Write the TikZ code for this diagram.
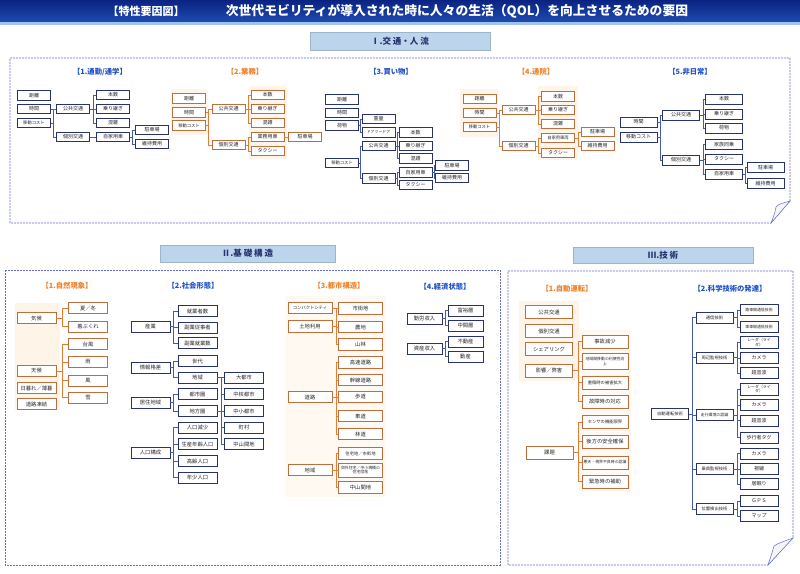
\documentclass[tikz,border=0pt]{standalone}
\usepackage{fontspec}
\newfontfamily\jp{Noto Sans CJK JP}
\usetikzlibrary{shadows}
\definecolor{navy}{RGB}{40,50,110}
\definecolor{obrd}{RGB}{190,110,60}
\definecolor{blin}{RGB}{70,90,170}
\definecolor{olin}{RGB}{225,125,55}
\definecolor{tblue}{RGB}{30,80,200}
\definecolor{torange}{RGB}{240,130,40}
\definecolor{frmc}{RGB}{100,110,200}
\definecolor{secfill}{RGB}{188,212,236}
\definecolor{barA}{RGB}{10,35,130}
\definecolor{barB}{RGB}{30,75,175}
\definecolor{stripe}{RGB}{160,195,235}
\newcommand\tre[4]{\coordinate (tmpb) at (#3,0);\foreach \kid in {#4}{\draw[#1] (#2.east) -| (tmpb |- \kid.west) -- (\kid.west);}}
\newcommand\tck[3]{\coordinate (tmpb) at (#3,0);\draw[#1] (#2.east) -- (tmpb |- #2.east);}
\tikzset{
 bx/.style={draw=navy, fill=white, line width=0.55pt, inner sep=0.3pt, align=center, text=black!85,
   font=\jp\fontsize{5}{5.6}\selectfont,
   drop shadow={shadow xshift=0.6pt, shadow yshift=-0.6pt, fill=black, opacity=0.25}},
 ox/.style={bx, draw=obrd},
 sm/.style={font=\jp\fontsize{4.3}{5}\selectfont},
 xs/.style={font=\jp\fontsize{3.9}{4.6}\selectfont},
 s1/.style={minimum width=33, minimum height=9.5},
 s1w/.style={minimum width=37, minimum height=10},
 s2/.style={minimum width=39, minimum height=11, font=\jp\fontsize{5.3}{6}\selectfont},
 s2w/.style={minimum width=44, minimum height=11.5, font=\jp\fontsize{5.3}{6}\selectfont},
 s3/.style={minimum width=47, minimum height=13, font=\jp\fontsize{5.3}{6}\selectfont},
 s3r/.style={minimum width=37, minimum height=11, font=\jp\fontsize{5}{5.6}\selectfont},
 bl/.style={draw=blin, line width=0.5pt},
 ol/.style={draw=olin, line width=0.5pt},
 tb/.style={font=\jp\bfseries\fontsize{7.3}{8}\selectfont, text=tblue},
 to/.style={font=\jp\bfseries\fontsize{7.3}{8}\selectfont, text=torange},
 sec/.style={fill=secfill, draw=secfill!85!black, line width=0.4pt, font=\jp\bfseries\fontsize{8.5}{10}\selectfont, text=navy},
 frm/.style={draw=frmc, dash pattern=on 2pt off 1pt, line width=0.6pt},
 curl/.style={draw=frmc, line width=0.5pt, fill=gray!8},
 osh/.style={fill=orange!9},
}
\begin{document}
\begin{tikzpicture}[x=1pt,y=-1pt]
\useasboundingbox (0,0) rectangle (800,573);
\fill[white] (0,0) rectangle (800,573);
% ---------- title bar
\shade[top color=barA, bottom color=barB] (0,0) rectangle (800,22);
\fill[stripe] (0,22) rectangle (800,25);
\node[font=\jp\bfseries\fontsize{11}{12}\selectfont, text=white] (tt1) at (146,11) {【特性要因図】};
\node[font=\jp\bfseries\fontsize{12.8}{13}\selectfont, text=white] (tt2) at (457,11) {次世代モビリティが導入された時に人々の生活（QOL）を向上させるための要因};
% ---------- section I
\node[sec, minimum width=180, minimum height=18] (sec1) at (400,41) {Ⅰ.交 通・人 流};
\draw[frm] (10,58) -- (790,58) -- (790,201) -- (771,223) -- (10,223) -- cycle;
\filldraw[curl] (790,201) .. controls (783,203) and (778,204) .. (776,207) .. controls (775,213) and (773,218) .. (771,223) -- cycle;
\fill[osh] (171,89) rectangle (208,135);
\fill[osh] (249,86) rectangle (287,159);
\fill[osh] (460,89) rectangle (498,137);
\fill[osh] (538,86) rectangle (578,160);
% titles
\node[tb] (h11) at (100,72) {【1.通勤/通学】};
\node[to] (h12) at (245,72) {【2.業務】};
\node[tb] (h13) at (391,72) {【3.買い物】};
\node[to] (h14) at (536,72) {【4.通院】};
\node[tb] (h15) at (690,72) {【5.非日常】};
% group 1
\node[bx,s1] (a1) at (34,95.5) {距離};
\node[bx,s1] (a2) at (34,109) {時間};
\node[bx,s1,sm] (a3) at (34,123) {移動コスト};
\node[bx,s1] (a4) at (73,109) {公共交通};
\node[bx,s1] (a5) at (73,137) {個別交通};
\node[bx,s1] (a6) at (113,95) {本数};
\node[bx,s1] (a7) at (113,109) {乗り継ぎ};
\node[bx,s1] (a8) at (113,123) {混雑};
\node[bx,s1] (a9) at (113,137) {自家用車};
\node[bx,s1] (a10) at (152,130) {駐車場};
\node[bx,s1] (a11) at (152,144) {維持費用};
\tre{bl}{a2}{53.5}{a4,a5}\tck{bl}{a3}{53.5}
\tre{bl}{a4}{93}{a6,a7,a8}
\draw[bl] (a5) -- (a9);
\tre{bl}{a9}{132.5}{a10,a11}
% group 2
\node[ox,s1] (b1) at (189,98.5) {距離};
\node[ox,s1] (b2) at (189,112.5) {時間};
\node[ox,s1,sm] (b3) at (189,125.5) {移動コスト};
\node[ox,s1] (b4) at (228.5,109) {公共交通};
\node[ox,s1] (b5) at (228.5,145) {個別交通};
\node[ox,s1] (b6) at (267.5,95) {本数};
\node[ox,s1] (b7) at (267.5,109) {乗り継ぎ};
\node[ox,s1] (b8) at (267.5,123) {混雑};
\node[ox,s1] (b9) at (267.5,137) {業務用車};
\node[ox,s1] (b10) at (267.5,151) {タクシー};
\node[ox,s1] (b11) at (305,137) {駐車場};
\tre{ol}{b2}{208.5}{b4,b5}\tck{ol}{b3}{208.5}
\tre{ol}{b4}{248}{b6,b7,b8}
\tre{ol}{b5}{248}{b9,b10}
\draw[ol] (b9) -- (b11);
% group 3
\node[bx,s1] (c1) at (342,99.5) {距離};
\node[bx,s1] (c2) at (342,113) {時間};
\node[bx,s1] (c3) at (342,125.5) {荷物};
\node[bx,s1,sm] (c4) at (342,163) {移動コスト};
\node[bx,s1] (c5) at (378.5,119) {重量};
\node[bx,s1,xs] (c6) at (378.5,132.5) {ドアツードア};
\node[bx,s1] (c7) at (378.5,146) {公共交通};
\node[bx,s1] (c8) at (378.5,178.5) {個別交通};
\node[bx,s1] (c9) at (415.5,132.5) {本数};
\node[bx,s1] (c10) at (415.5,146) {乗り継ぎ};
\node[bx,s1] (c11) at (415.5,158.5) {混雑};
\node[bx,s1] (c12) at (415.5,172.5) {自家用車};
\node[bx,s1] (c13) at (415.5,185) {タクシー};
\node[bx,s1] (c14) at (452,165.5) {駐車場};
\node[bx,s1] (c15) at (452,178) {維持費用};
\tre{bl}{c3}{360}{c5,c6}
\tre{bl}{c4}{360}{c7,c8}
\tre{bl}{c7}{397}{c9,c10,c11}
\tre{bl}{c8}{397}{c12,c13}
\tre{bl}{c12}{434}{c14,c15}
% group 4
\node[ox,s1] (d1) at (479.5,99) {距離};
\node[ox,s1] (d2) at (479.5,113) {時間};
\node[ox,s1,sm] (d3) at (479.5,127) {移動コスト};
\node[ox,s1] (d4) at (518.5,110) {公共交通};
\node[ox,s1] (d5) at (518.5,146) {個別交通};
\node[ox,s1] (d6) at (558,96.5) {本数};
\node[ox,s1] (d7) at (558,110) {乗り継ぎ};
\node[ox,s1] (d8) at (558,124) {混雑};
\node[ox,s1,sm] (d9) at (558,138) {自家用車両};
\node[ox,s1] (d10) at (558,153) {タクシー};
\node[ox,s1] (d11) at (597.5,132) {駐車場};
\node[ox,s1] (d12) at (597.5,146) {維持費用};
\tre{ol}{d2}{499}{d4,d5}\tck{ol}{d3}{499}
\tre{ol}{d4}{538}{d6,d7,d8}
\tre{ol}{d5}{538}{d9,d10}
\tre{ol}{d9}{578}{d11,d12}
% group 5
\node[bx,s1w] (e1) at (638.5,122) {時間};
\node[bx,s1w] (e2) at (638.5,137) {移動コスト};
\node[bx,s1w] (e3) at (681,115) {公共交通};
\node[bx,s1w] (e4) at (681,160) {個別交通};
\node[bx,s1w] (e5) at (724,99) {本数};
\node[bx,s1w] (e6) at (724,114) {乗り継ぎ};
\node[bx,s1w] (e7) at (724,128) {荷物};
\node[bx,s1w] (e8) at (724,144.5) {家族同乗};
\node[bx,s1w] (e9) at (724,159) {タクシー};
\node[bx,s1w] (e10) at (724,174) {自家用車};
\node[bx,s1w] (e11) at (765.5,167.5) {駐車場};
\node[bx,s1w] (e12) at (765.5,183.5) {維持費用};
\tre{bl}{e1}{660}{e3,e4}\tck{bl}{e2}{660}
\tre{bl}{e3}{703}{e5,e6,e7}
\tre{bl}{e4}{703}{e8,e9,e10}
\tre{bl}{e10}{745}{e11,e12}
% ---------- section II
\node[sec, minimum width=175, minimum height=17] (sec2) at (247.5,253.5) {Ⅱ.基 礎 構 造};
\draw[frm] (5,270) rectangle (500,565);
\fill[osh] (15,303) rectangle (60,410);
\fill[osh,fill=orange!5] (285,296) rectangle (386,497);
\node[to] (h21) at (67,286) {【1.自然現象】};
\node[tb] (h22) at (193,286) {【2.社会形態】};
\node[to] (h23) at (339,286) {【3.都市構造】};
\node[tb] (h24) at (445,287) {【4.経済状態】};
% group II-1
\node[ox,s2] (f1) at (36.5,318) {気候};
\node[ox,s2] (f2) at (88,308) {夏／冬};
\node[ox,s2] (f3) at (88,326.5) {着ぶくれ};
\node[ox,s2] (f4) at (88,344) {台風};
\node[ox,s2] (f5) at (88,362) {雨};
\node[ox,s2] (f6) at (88,380.5) {風};
\node[ox,s2] (f7) at (88,397.5) {雪};
\node[ox,s2] (f8) at (36.5,371) {天候};
\node[ox,s2] (f9) at (36.5,388) {日暮れ／薄暮};
\node[ox,s2] (f10) at (36.5,404) {道路凍結};
\tre{ol}{f1}{62}{f2,f3}
\tre{ol}{f8}{62}{f4,f5,f6,f7}
% group II-2
\node[bx,s2] (g1) at (150.5,326.5) {産業};
\node[bx,s2] (g2) at (197.5,311) {就業者数};
\node[bx,s2] (g3) at (197.5,327.5) {副業従事者};
\node[bx,s2] (g4) at (197.5,343) {副業就業数};
\node[bx,s2] (g5) at (150.5,367.5) {情報格差};
\node[bx,s2] (g6) at (197.5,361) {世代};
\node[bx,s2] (g7) at (197.5,377.5) {地域};
\node[bx,s2] (g8) at (150.5,402.5) {居住地域};
\node[bx,s2] (g9) at (197.5,394) {都市圏};
\node[bx,s2] (g10) at (197.5,411) {地方圏};
\node[bx,s2] (g11) at (150.5,452.5) {人口構成};
\node[bx,s2] (g12) at (197.5,427.5) {人口減少};
\node[bx,s2] (g13) at (197.5,444) {生産年齢人口};
\node[bx,s2] (g14) at (197.5,461) {高齢人口};
\node[bx,s2] (g15) at (197.5,477.5) {年少人口};
\node[bx,s2] (g16) at (244,377.5) {大都市};
\node[bx,s2] (g17) at (244,394) {中核都市};
\node[bx,s2] (g18) at (244,411) {中小都市};
\node[bx,s2] (g19) at (244,427.5) {町村};
\node[bx,s2] (g20) at (244,444) {中山間地};
\tre{bl}{g1}{173.5}{g2,g3,g4}
\tre{bl}{g5}{173.5}{g6,g7}
\tre{bl}{g8}{173.5}{g9,g10}
\tre{bl}{g11}{173.5}{g12,g13,g14,g15}
\tre{bl}{g7}{221}{g16,g17,g18,g19,g20}
\tck{bl}{g10}{221}
% group II-3
\node[ox,s2w,sm] (h1) at (310,308) {コンパクトシティ};
\node[ox,s2w] (h2) at (310,326.5) {土地利用};
\node[ox,s2w] (h3) at (360.5,308.5) {市街地};
\node[ox,s2w] (h4) at (360.5,327) {農地};
\node[ox,s2w] (h5) at (360.5,344.5) {山林};
\node[ox,s2w] (h6) at (310,397) {道路};
\node[ox,s2w] (h7) at (360.5,362.5) {高速道路};
\node[ox,s2w] (h8) at (360.5,380) {幹線道路};
\node[ox,s2w] (h9) at (360.5,397) {歩道};
\node[ox,s2w] (h10) at (360.5,416) {車道};
\node[ox,s2w] (h11) at (360.5,434) {林道};
\node[ox,s2w] (h12) at (310,470) {地域};
\node[ox,s2w,sm] (h13) at (360.5,453.5) {住宅地／市街地};
\node[ox,s2w,xs,minimum height=14] (h14) at (360.5,470) {郊外住宅／中小規模の\\住宅団地};
\node[ox,s2w] (h15) at (360.5,487.5) {中山間地};
\tre{ol}{h2}{336}{h3,h4,h5}\tck{ol}{h1}{336}
\tre{ol}{h6}{336}{h7,h8,h9,h10,h11}
\tre{ol}{h12}{336}{h13,h14,h15}
% group II-4
\node[bx,s2,minimum width=35] (i1) at (424.5,318.5) {勤労収入};
\node[bx,s2,minimum width=35] (i2) at (465.5,310.5) {富裕層};
\node[bx,s2,minimum width=35] (i3) at (465.5,325.5) {中間層};
\node[bx,s2,minimum width=35] (i4) at (424.5,348.5) {資産収入};
\node[bx,s2,minimum width=35] (i5) at (465.5,341.5) {不動産};
\node[bx,s2,minimum width=35] (i6) at (465.5,356.5) {動産};
\tre{bl}{i1}{445}{i2,i3}
\tre{bl}{i4}{445}{i5,i6}
% ---------- section III
\node[sec, minimum width=180, minimum height=16] (sec3) at (663,255) {Ⅲ.技 術};
\draw[frm] (508,271) -- (793,271) -- (793,538) -- (768,565) -- (508,565) -- cycle;
\filldraw[curl] (793,538) .. controls (785,541) and (778,543) .. (774,546) .. controls (772,553) and (770,559) .. (768,565) -- cycle;
\fill[osh] (519,301) rectangle (579,381);
\fill[osh,fill=orange!5] (579,330) rectangle (631,492);
\node[to] (h31) at (567,289) {【1.自動運転】};
\node[tb] (h32) at (730,289) {【2.科学技術の発達】};
% group III-1
\node[ox,s3] (j1) at (549,312) {公共交通};
\node[ox,s3] (j2) at (549,331) {個別交通};
\node[ox,s3] (j3) at (549,349) {シェアリング};
\node[ox,s3] (j4) at (549,370.5) {影響／弊害};
\node[ox,s3,minimum width=46] (j5) at (605,341.5) {事故減少};
\node[ox,s3,xs,minimum width=46,minimum height=16] (j6) at (605,361.5) {地域間移動の利便性向\\上};
\node[ox,s3,sm,minimum width=46] (j7) at (605,382.5) {重傷時の被害拡大};
\node[ox,s3,minimum width=46] (j8) at (605,401.5) {故障時の対応};
\node[ox,s3] (j9) at (549.5,452.5) {課題};
\node[ox,s3,sm,minimum width=46] (j10) at (605,422) {センサの機能限界};
\node[ox,s3,minimum width=46] (j11) at (605,441.5) {後方の安全確保};
\node[ox,s3,xs,minimum width=46] (j12) at (605,462.5) {悪天・視界不良時の認識};
\node[ox,s3,minimum width=46] (j13) at (605,481.5) {緊急時の補助};
\tre{ol}{j4}{578}{j5,j6,j7,j8}
\tre{ol}{j9}{578}{j10,j11,j12,j13}
% group III-2
\node[bx,s3r,sm] (k1) at (670,414) {自動運転技術};
\node[bx,s3r,sm] (k2) at (714.5,317.5) {通信技術};
\node[bx,s3r,sm] (k3) at (714.5,357.5) {周辺監視技術};
\node[bx,s3r,xs] (k4) at (714.5,415) {走行環境の認識};
\node[bx,s3r,sm] (k5) at (714.5,469) {乗員監視技術};
\node[bx,s3r,sm] (k6) at (714.5,509) {位置検出技術};
\node[bx,s3r,xs,minimum width=38] (k7) at (759,310) {路車間通信技術};
\node[bx,s3r,xs,minimum width=38] (k8) at (759,327) {車車間通信技術};
\node[bx,s3r,xs,minimum width=38,minimum height=12] (k9) at (759,342.5) {レーダ（ライ\\ダ）};
\node[bx,s3r,minimum width=38] (k10) at (759,358) {カメラ};
\node[bx,s3r,minimum width=38] (k11) at (759,373) {超音波};
\node[bx,s3r,xs,minimum width=38,minimum height=12] (k12) at (759,389) {レーダ（ライ\\ダ）};
\node[bx,s3r,minimum width=38] (k13) at (759,405) {カメラ};
\node[bx,s3r,minimum width=38] (k14) at (759,420.5) {超音波};
\node[bx,s3r,minimum width=38] (k15) at (759,437.5) {歩行者タグ};
\node[bx,s3r,minimum width=38] (k16) at (759,453.5) {カメラ};
\node[bx,s3r,minimum width=38] (k17) at (759,469) {視線};
\node[bx,s3r,minimum width=38] (k18) at (759,484) {居眠り};
\node[bx,s3r,minimum width=38] (k19) at (759,501) {ＧＰＳ};
\node[bx,s3r,minimum width=38] (k20) at (759,516) {マップ};
\tre{bl}{k1}{692}{k2,k3,k4,k5,k6}
\tre{bl}{k2}{737}{k7,k8}
\tre{bl}{k3}{737}{k9,k10,k11}
\tre{bl}{k4}{737}{k12,k13,k14,k15}
\tre{bl}{k5}{737}{k16,k17,k18}
\tre{bl}{k6}{737}{k19,k20}
\end{tikzpicture}
\end{document}
